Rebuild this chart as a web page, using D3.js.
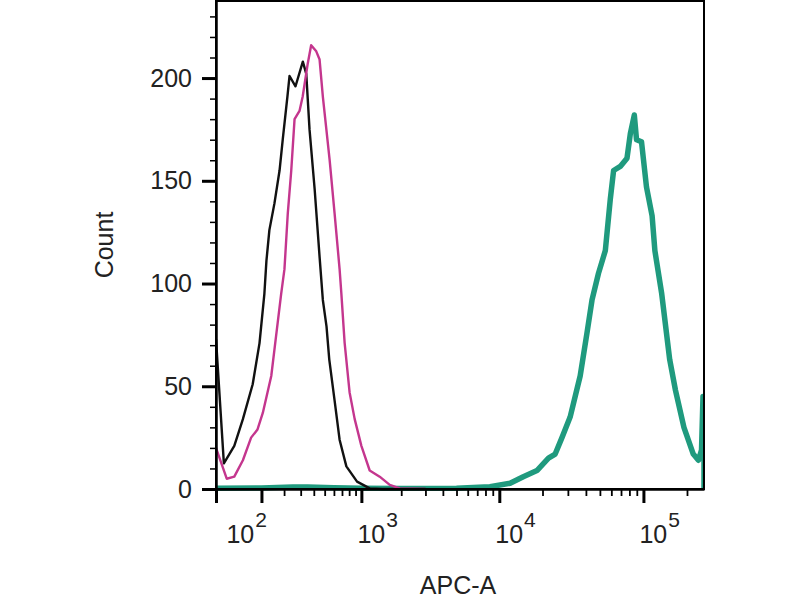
<!DOCTYPE html>
<html>
<head>
<meta charset="utf-8">
<title>APC-A histogram</title>
<script src="https://d3js.org/d3.v7.min.js"></script>
<style>
  body { margin: 0; background: #fff; }
  text { font-family: "Liberation Sans", Arial, sans-serif; fill: #222; }
</style>
</head>
<body>
<script>
  // data: APC-A channel value and event count
  var blackX = [-22, -4, 19, 41, 70, 93, 111, 119, 131, 153, 177, 193, 218, 230, 266, 315, 340, 365, 407, 451, 482, 519, 548, 608, 669, 760, 925, 1160, 1450, 3000];
  var blackY = [73, 12.5, 21, 34, 51, 71, 95, 111, 126, 139, 155, 170, 191, 201, 196, 208, 202, 175, 146, 113, 92, 79, 63, 43, 24, 11, 3.6, 0.3, 0, 0];

  var pinkX = [-22, 2, 19, 41, 65, 86, 105, 139, 160, 185, 202, 220, 240, 260, 292, 314, 351, 378, 421, 451, 482, 515, 552, 608, 669, 692, 736, 807, 886, 1000, 1160, 1382, 1645, 1952, 3000];
  var pinkY = [20, 5, 6, 14, 25, 29, 37, 55, 74, 95, 107, 134, 155, 180, 184, 191, 207, 216, 213, 209, 191, 176, 160, 134, 107, 95, 71, 47, 34, 21, 9, 6, 2, 0.3, 0];

  var tealX = [-22, 100, 250, 350, 600, 1000, 2000, 5000, 8600, 11900, 14700, 18300, 22000, 24500, 27300, 31100, 36500, 40700, 44100, 48900, 54500, 59000, 62200, 69200, 77000, 81200, 86500, 89600, 97000, 105000, 114800, 120000, 133800, 151900, 166600, 190500, 221000, 240000, 252000, 258000, 262144, 262144];
  var tealY = [0.4, 0.5, 1, 1, 0.6, 0.4, 0.3, 0.4, 1.1, 2.8, 6, 9, 15, 17, 25, 35, 55, 76, 92, 105, 116, 141, 155, 157, 161, 173, 182, 170, 169, 147, 133, 116, 95, 63, 48, 30, 17, 14, 19, 45, 45, 0];

  var xMajor = [100, 1000, 10000, 100000];
  var xMajorExp = ["2", "3", "4", "5"];
  var yMajor = [0, 50, 100, 150, 200];

  var width = 800, height = 600;
  var plotLeft = 216, plotRight = 704, plotTop = 1, plotBottom = 489;

  var svg = d3.select("body").append("svg").attr("width", width).attr("height", height);

  var x = d3.scaleSymlog().constant(131).domain([-22, 262144]).range([plotLeft, plotRight]);
  var y = d3.scaleLinear().domain([0, 237.5]).range([plotBottom, plotTop]);

  // minor ticks
  var xMinor = [];
  [100, 1000, 10000].forEach(function (d) {
    for (var k = 2; k <= 9; k++) xMinor.push(k * d);
  });
  xMinor.push(200000);
  var yMinor = d3.range(0, 240, 10);

  svg.append("defs").append("clipPath").attr("id", "plot")
    .append("rect").attr("x", plotLeft).attr("y", plotTop)
    .attr("width", plotRight - plotLeft).attr("height", plotBottom - plotTop + 2);

  // curves
  var line = d3.line().x(d => x(d[0])).y(d => y(d[1]));
  var series = [
    { xs: tealX, ys: tealY, color: "#1f9a7e", w: 5.5 },
    { xs: blackX, ys: blackY, color: "#111", w: 2.4 },
    { xs: pinkX, ys: pinkY, color: "#c4368e", w: 2.4 }
  ];
  var curves = svg.append("g").attr("clip-path", "url(#plot)");
  series.forEach(function (s) {
    curves.append("path")
      .datum(s.xs.map((v, i) => [v, s.ys[i]]))
      .attr("d", line)
      .attr("fill", "none")
      .attr("stroke", s.color)
      .attr("stroke-width", s.w)
      .attr("stroke-linejoin", "round");
  });

  // frame
  svg.append("rect")
    .attr("x", plotLeft).attr("y", plotTop)
    .attr("width", plotRight - plotLeft).attr("height", plotBottom - plotTop)
    .attr("fill", "none").attr("stroke", "#000").attr("stroke-width", 2);

  // y axis
  svg.append("g").attr("transform", "translate(" + plotLeft + ",0)")
    .call(d3.axisLeft(y).tickValues(yMinor).tickSize(6).tickSizeOuter(0).tickFormat(""))
    .call(a => a.selectAll("line").attr("stroke-width", 1.5));
  var ya = svg.append("g").attr("transform", "translate(" + plotLeft + ",0)")
    .call(d3.axisLeft(y).tickValues(yMajor).tickSize(14).tickSizeOuter(0).tickPadding(10));
  ya.select(".domain").attr("stroke-width", 2.5);
  ya.selectAll("line").attr("stroke-width", 3);
  ya.selectAll("text").style("font-size", "25px").attr("fill", "#222");

  // x axis
  svg.append("g").attr("transform", "translate(0," + plotBottom + ")")
    .call(d3.axisBottom(x).tickValues(xMinor).tickSize(7).tickSizeOuter(0).tickFormat(""))
    .call(a => a.selectAll("line").attr("stroke-width", 1.8));
  var xa = svg.append("g").attr("transform", "translate(0," + plotBottom + ")")
    .call(d3.axisBottom(x).tickValues([-22].concat(xMajor)).tickSize(14).tickSizeOuter(0).tickFormat(""));
  xa.select(".domain").attr("stroke-width", 2.5);
  xa.selectAll("line").attr("stroke-width", 3);

  var lab = svg.append("g").selectAll("text")
    .data(xMajor)
    .enter()
    .append("text")
    .attr("x", d => x(d) + (d === 100 ? -35 : -4))
    .attr("y", 543)
    .style("font-size", "25px");
  lab.append("tspan").text("10");
  lab.append("tspan").text((d, i) => xMajorExp[i]).attr("dx", 1).attr("dy", -16).style("font-size", "21px");

  // axis titles
  svg.append("text")
    .attr("transform", "translate(113,245) rotate(-90)")
    .attr("text-anchor", "middle")
    .style("font-size", "25px")
    .text("Count");
  svg.append("text")
    .attr("x", 458).attr("y", 594)
    .attr("text-anchor", "middle")
    .style("font-size", "25px")
    .text("APC-A");
</script>
</body>
</html>
